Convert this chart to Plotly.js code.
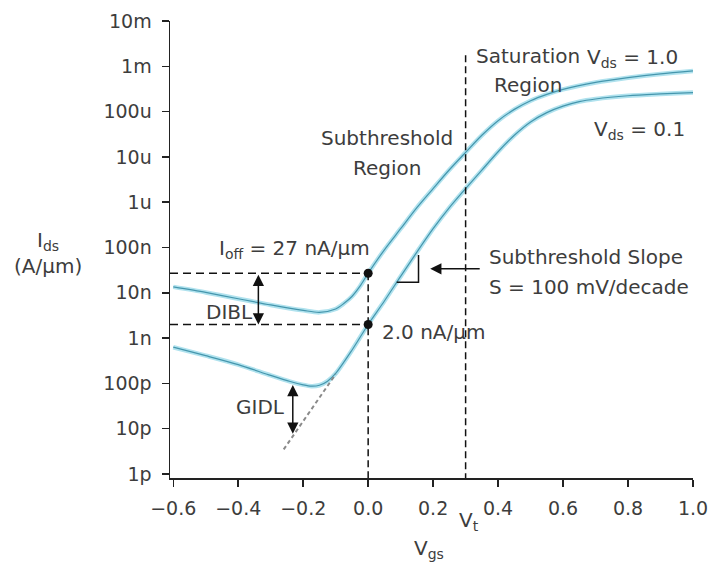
<!DOCTYPE html>
<html><head><meta charset="utf-8">
<script src="https://cdn.plot.ly/plotly-3.0.1.min.js"></script>
<style>html,body{margin:0;padding:0;background:#fff}#chart{width:711px;height:568px}</style>
</head><body><div id="chart"></div>
<script>
// Vds = 1.0 V curve
const vgsHigh = [-0.60,-0.50,-0.40,-0.30,-0.20,-0.15,-0.10,-0.075,-0.05,-0.025,0.00,0.05,0.10,0.15,0.20,0.25,0.30,0.35,0.40,0.45,0.50,0.55,0.60,0.70,0.80,0.90,1.00];
const idsHigh = [1.35e-8,1.02e-8,7.4e-9,5.4e-9,4.1e-9,3.7e-9,4.4e-9,5.8e-9,8.3e-9,1.4e-8,2.7e-8,8.9e-8,2.6e-7,7.6e-7,2.0e-6,5.2e-6,1.26e-5,3.0e-5,6.3e-5,1.12e-4,1.74e-4,2.4e-4,3.1e-4,4.4e-4,5.6e-4,6.8e-4,7.9e-4];
// Vds = 0.1 V curve
const vgsLow = [-0.60,-0.50,-0.40,-0.30,-0.24,-0.20,-0.175,-0.15,-0.125,-0.10,-0.05,0.00,0.05,0.10,0.15,0.20,0.25,0.30,0.35,0.40,0.45,0.50,0.55,0.60,0.65,0.70,0.80,0.90,1.00];
const idsLow = [6.3e-10,4.1e-10,2.6e-10,1.5e-10,1.1e-10,9.3e-11,8.7e-11,9.1e-11,1.12e-10,1.66e-10,5.4e-10,2.0e-9,6.6e-9,2.3e-8,7.9e-8,2.6e-7,7.6e-7,2.0e-6,5.1e-6,1.3e-5,3.0e-5,5.9e-5,9.5e-5,1.32e-4,1.66e-4,1.9e-4,2.24e-4,2.45e-4,2.63e-4];
// GIDL extrapolated subthreshold line
const gidlVgs = [-0.26,-0.10];
const gidlIds = [3.5e-12,1.6e-10];
// slope triangle
const triVgs = [0.088,0.155,0.155];
const triIds = [1.7e-8,1.7e-8,6.8e-8];
// markers
const ioffHigh = 27e-9;
const ioffLow = 2.0e-9;
const vt = 0.3;
const vtTop = 1.75e-3;
// ticks
const yTickVals = [1e-12,1e-11,1e-10,1e-9,1e-8,1e-7,1e-6,1e-5,1e-4,1e-3,1e-2];
const yTickText = ['1p','10p','100p','1n','10n','100n','1u','10u','100u','1m','10m'];
const xTickVals = [-0.6,-0.4,-0.2,0.0,0.2,0.4,0.6,0.8,1.0];

const xRange = [-0.61, 1.0];
const yRange = [-12.088, -2];
const yBottom = Math.pow(10, yRange[0]);
const FONT = 'DejaVu Sans';
const TC = '#3d3d3d';
const L = Math.log10;

const halo = '#b0e2ee', core = '#4596ad';
const traces = [
  {x: vgsHigh, y: idsHigh, mode:'lines', line:{color:halo, width:4.5, shape:'spline', smoothing:0.8}},
  {x: vgsLow, y: idsLow, mode:'lines', line:{color:halo, width:4.5, shape:'spline', smoothing:0.8}},
  {x: vgsHigh, y: idsHigh, mode:'lines', line:{color:core, width:1.2, shape:'spline', smoothing:0.8}},
  {x: vgsLow, y: idsLow, mode:'lines', line:{color:core, width:1.2, shape:'spline', smoothing:0.8}},
  // dashed guide lines
  {x:[xRange[0],0], y:[ioffHigh,ioffHigh], mode:'lines', line:{color:'#111', width:1.5, dash:'8px,5px'}},
  {x:[xRange[0],0], y:[ioffLow,ioffLow], mode:'lines', line:{color:'#111', width:1.5, dash:'8px,5px'}},
  {x:[0,0], y:[ioffHigh,yBottom], mode:'lines', line:{color:'#111', width:1.5, dash:'7px,4px'}},
  {x:[vt,vt], y:[vtTop,yBottom], mode:'lines', line:{color:'#111', width:1.5, dash:'7px,4px'}},
  // GIDL extrapolation
  {x: gidlVgs, y: gidlIds, mode:'lines', line:{color:'#8a8a8a', width:2, dash:'4px,3px'}},
  // slope triangle
  {x: triVgs, y: triIds, mode:'lines', line:{color:'#111', width:1.5}},
  // dots
  {x:[0,0], y:[ioffHigh,ioffLow], mode:'markers', marker:{color:'#111', size:9}}
];

const PB = 478, PT = 21, PL = 170, PW = 523, PH = 457;
const px = p => (p - PL) / PW;
const py = p => (PB - p) / PH;
const tf = {family: FONT, size: 20, color: TC};

function txt(text, x, y, xa, opts) {
  return Object.assign({text, x, y, xref:'x', yref:'y', xanchor:xa, yanchor:'middle', showarrow:false, font:tf}, opts||{});
}
function ptxt(text, x, y, xa) {
  return {text, x, y, xref:'paper', yref:'paper', xanchor:xa, yanchor:'middle', showarrow:false, font:tf};
}
function arrow(x, y0, y1, x1, both) {
  return {text:'', x:x1 === undefined ? x : x1, y:y1, ax:x, ay:y0, xref:'x', yref:'y', axref:'x', ayref:'y',
    showarrow:true, arrowhead:2, arrowsize:1.5, arrowwidth:1.5, arrowcolor:'#111', arrowside: both ? 'end+start' : 'end', standoff:0, startstandoff:0};
}

const annotations = [
  txt('I<sub>off</sub> = 27 nA/µm', -0.465, -7.04, 'left'),
  txt('2.0 nA/µm', 0.037, -8.86, 'left'),
  txt('DIBL', -0.348, -8.43, 'right'),
  txt('GIDL', -0.250, -10.52, 'right'),
  txt('Subthreshold', 0.058, -4.59, 'center'),
  txt('Region', 0.058, -5.25, 'center'),
  txt('Saturation', 0.493, -2.78, 'center'),
  txt('Region', 0.493, -3.41, 'center'),
  txt('V<sub>ds</sub> = 1.0', 0.668, -2.82, 'left'),
  txt('V<sub>ds</sub> = 0.1', 0.689, -4.40, 'left'),
  txt('Subthreshold Slope', 0.366, -7.22, 'left'),
  txt('S = 100 mV/decade', 0.366, -7.88, 'left'),
  {text:'I<sub>ds</sub><br>(A/µm)', x:px(47.5), y:py(253), xref:'paper', yref:'paper', xanchor:'center', yanchor:'middle', align:'center', showarrow:false, font:tf},
  ptxt('V<sub>t</sub>', px(457), py(521), 'left'),
  ptxt('V<sub>gs</sub>', px(412), py(549), 'left'),
  arrow(-0.338, L(ioffHigh), L(ioffLow), undefined, true),
  arrow(-0.232, -10.0, -11.11, undefined, true),
  arrow(0.348, -7.47, -7.47, 0.191, false)
];

const axisCommon = {
  showgrid:false, zeroline:false, showline:true, linecolor:'#222', linewidth:1.5,
  ticks:'outside', ticklen:7, tickwidth:1.5, tickcolor:'#222',
  tickfont:{family:FONT, size:19, color:TC}
};
const layout = {
  width:711, height:568,
  margin:{l:PL, r:711-PL-PW, t:PT, b:568-PB},
  paper_bgcolor:'#fff', plot_bgcolor:'#fff',
  showlegend:false,
  xaxis: Object.assign({}, axisCommon, {range:xRange, tickvals:xTickVals, tickformat:'.1f', ticklabelstandoff:6}),
  yaxis: Object.assign({}, axisCommon, {type:'log', range:yRange, tickvals:yTickVals, ticktext:yTickText, ticklabelstandoff:6}),
  annotations
};
Plotly.newPlot('chart', traces, layout, {displayModeBar:false, staticPlot:true});
</script></body></html>
